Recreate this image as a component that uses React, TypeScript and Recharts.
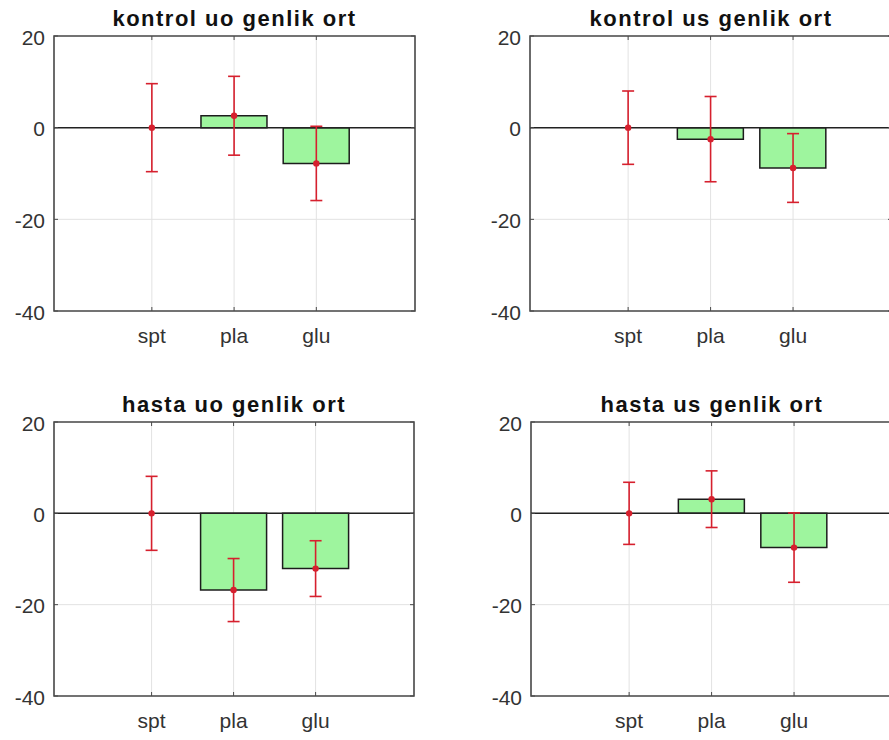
import React from 'react';
import {
  ComposedChart,
  Bar,
  Scatter,
  ErrorBar,
  XAxis,
  YAxis,
  CartesianGrid,
  ReferenceLine,
  ReferenceArea,
} from 'recharts';

// Category names and their positions on the x axis
const categories = ['spt', 'pla', 'glu'];
const xPositions = [1, 2, 3];
const yTicks = [-40, -20, 0, 20];

// Group means and error half-widths (amplitude averages)
const kontrolUoMean = [0, 2.6, -7.8];
const kontrolUoErr = [9.6, 8.6, 8.1];
const kontrolUsMean = [0, -2.5, -8.8];
const kontrolUsErr = [8.0, 9.3, 7.5];
const hastaUoMean = [0, -16.8, -12.1];
const hastaUoErr = [8.1, 6.9, 6.1];
const hastaUsMean = [0, 3.1, -7.5];
const hastaUsErr = [6.8, 6.2, 7.6];

const titles = [
  'kontrol uo genlik ort',
  'kontrol us genlik ort',
  'hasta uo genlik ort',
  'hasta us genlik ort',
];

const X_DOMAIN: [number, number] = [-0.19, 4.2];
const Y_DOMAIN: [number, number] = [-40, 20];

const FONT = '"Liberation Sans", Arial, Helvetica, sans-serif';
const BAR_FILL = '#9ef59e';
const BAR_EDGE = '#1c1c1c';
const ERR_RED = '#d6202e';
const BOX = '#4a4a4a';
const GRID = '#e2e2e2';
const TEXT = '#333333';

const LEFT_GUTTER = 54;
const TOP_GUTTER = 36;
const BOTTOM_GUTTER = 50;
const RIGHT_GUTTER = 10;

type PanelProps = {
  title: string;
  means: number[];
  errs: number[];
  plotLeft: number;
  plotTop: number;
  plotW: number;
  plotH: number;
};

function Panel({ title, means, errs, plotLeft, plotTop, plotW, plotH }: PanelProps) {
  const data = xPositions.map((x, i) => ({
    x,
    label: categories[i],
    mean: means[i],
    err: errs[i],
  }));

  const chartW = LEFT_GUTTER + plotW + RIGHT_GUTTER;
  const chartH = TOP_GUTTER + plotH + BOTTOM_GUTTER;
  const pTop = TOP_GUTTER;
  const pBottom = TOP_GUTTER + plotH;
  const pLeft = LEFT_GUTTER;
  const pRight = LEFT_GUTTER + plotW;
  const unitPx = plotW / (X_DOMAIN[1] - X_DOMAIN[0]);
  const barSize = Math.round(0.8 * unitPx);

  const renderXTick = (p: any) => {
    const x = p.x;
    const idx = xPositions.indexOf(p.payload.value);
    return (
      <g>
        <line x1={x} x2={x} y1={pBottom} y2={pBottom - 4} stroke={BOX} strokeWidth={1} />
        <line x1={x} x2={x} y1={pTop} y2={pTop + 4} stroke={BOX} strokeWidth={1} />
        <text
          x={x}
          y={pBottom + 32}
          textAnchor="middle"
          fill={TEXT}
          fontSize={21}
          fontFamily={FONT}
        >
          {categories[idx] ?? ''}
        </text>
      </g>
    );
  };

  const renderYTick = (p: any) => {
    const y = p.y;
    return (
      <g>
        <line x1={pLeft} x2={pLeft + 4} y1={y} y2={y} stroke={BOX} strokeWidth={1} />
        <line x1={pRight} x2={pRight - 4} y1={y} y2={y} stroke={BOX} strokeWidth={1} />
        <text
          x={pLeft - 9}
          y={y + 8.5}
          textAnchor="end"
          fill={TEXT}
          fontSize={21}
          fontFamily={FONT}
        >
          {p.payload.value}
        </text>
      </g>
    );
  };

  const dot = (p: any) => <circle cx={p.cx} cy={p.cy} r={3.2} fill={ERR_RED} />;

  return (
    <>
      <div
        style={{
          position: 'absolute',
          left: plotLeft,
          top: plotTop - 28,
          width: plotW,
          textAlign: 'center',
          fontFamily: FONT,
          fontWeight: 'bold',
          fontSize: 22,
          lineHeight: '22px',
          letterSpacing: '1.5px',
          color: '#111',
          whiteSpace: 'nowrap',
        }}
      >
        {title}
      </div>
      <div
        style={{
          position: 'absolute',
          left: plotLeft - LEFT_GUTTER,
          top: plotTop - TOP_GUTTER,
        }}
      >
        <ComposedChart
          width={chartW}
          height={chartH}
          data={data}
          margin={{ top: TOP_GUTTER, right: RIGHT_GUTTER, bottom: 0, left: 0 }}
        >
          <CartesianGrid stroke={GRID} strokeWidth={1} />
          <XAxis
            type="number"
            dataKey="x"
            domain={X_DOMAIN}
            ticks={xPositions}
            allowDataOverflow
            axisLine={false}
            tickLine={false}
            tickSize={0}
            tickMargin={0}
            height={BOTTOM_GUTTER}
            tick={renderXTick}
            interval={0}
          />
          <YAxis
            type="number"
            domain={Y_DOMAIN}
            ticks={yTicks}
            allowDataOverflow
            axisLine={false}
            tickLine={false}
            tickSize={0}
            tickMargin={0}
            width={LEFT_GUTTER}
            tick={renderYTick}
            interval={0}
          />
          <Bar
            dataKey="mean"
            fill={BAR_FILL}
            stroke={BAR_EDGE}
            strokeWidth={1.5}
            barSize={barSize}
            isAnimationActive={false}
          />
          <ReferenceLine y={0} stroke="#222" strokeWidth={1.5} />
          <Scatter dataKey="mean" shape={dot} isAnimationActive={false}>
            <ErrorBar
              dataKey="err"
              direction="y"
              width={6}
              stroke={ERR_RED}
              strokeWidth={1.6}
              isAnimationActive={false}
            />
          </Scatter>
          <ReferenceArea
            x1={X_DOMAIN[0]}
            x2={X_DOMAIN[1]}
            y1={Y_DOMAIN[0]}
            y2={Y_DOMAIN[1]}
            fill="none"
            stroke={BOX}
            strokeWidth={1.6}
            ifOverflow="visible"
          />
        </ComposedChart>
      </div>
    </>
  );
}

export default function App() {
  return (
    <div
      style={{
        position: 'absolute',
        left: 0,
        top: 0,
        width: 889,
        height: 740,
        overflow: 'hidden',
        background: '#ffffff',
      }}
    >
      <Panel title={titles[0]} means={kontrolUoMean} errs={kontrolUoErr} plotLeft={54} plotTop={36} plotW={361} plotH={275} />
      <Panel title={titles[1]} means={kontrolUsMean} errs={kontrolUsErr} plotLeft={530} plotTop={36} plotW={362} plotH={275} />
      <Panel title={titles[2]} means={hastaUoMean} errs={hastaUoErr} plotLeft={54} plotTop={422} plotW={360} plotH={274} />
      <Panel title={titles[3]} means={hastaUsMean} errs={hastaUsErr} plotLeft={531} plotTop={422} plotW={362} plotH={274} />
    </div>
  );
}
